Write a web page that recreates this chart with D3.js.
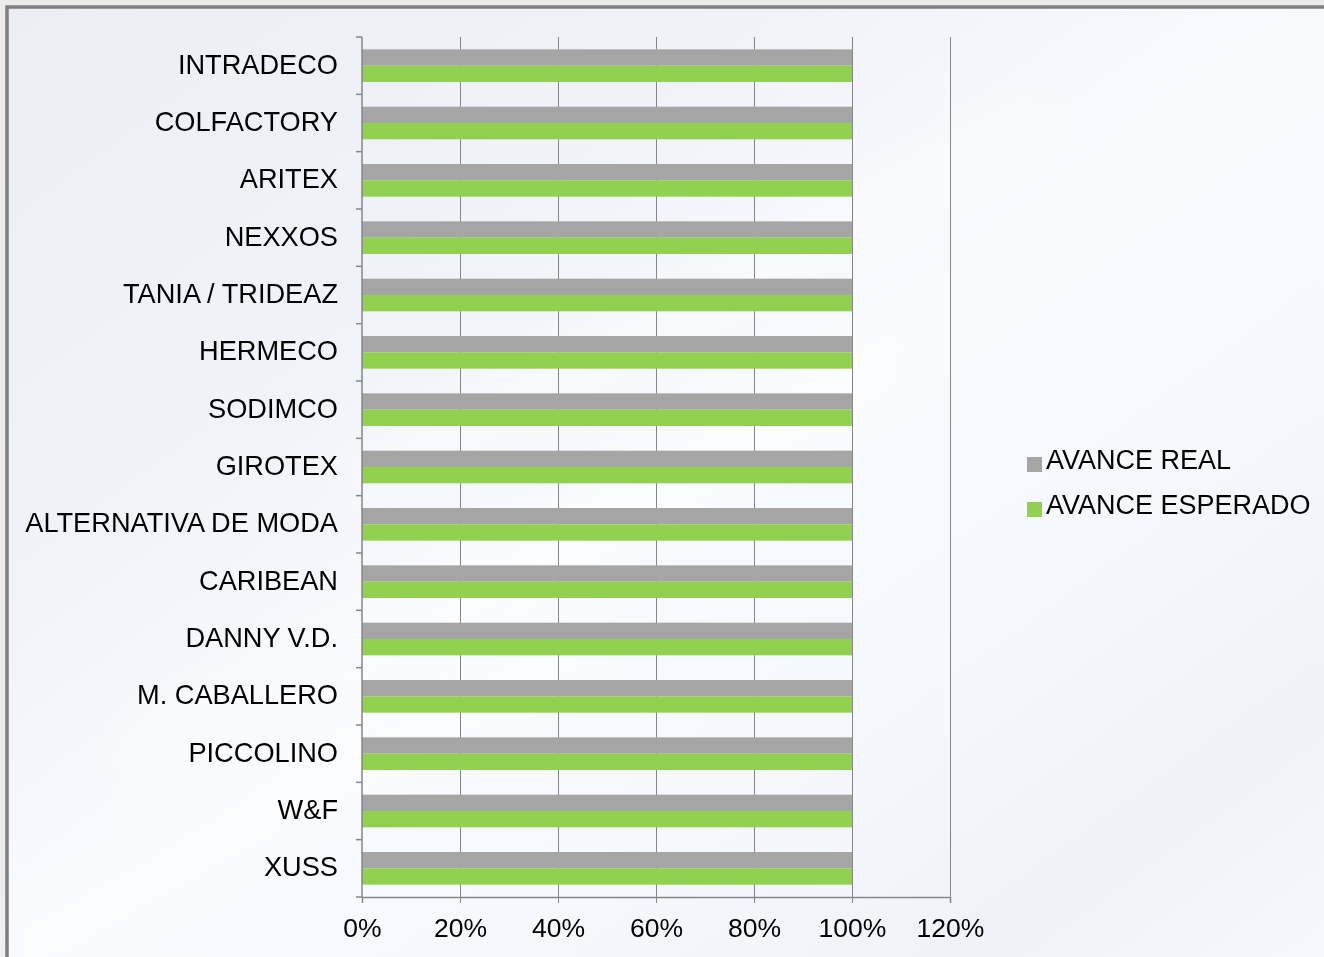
<!DOCTYPE html>
<html>
<head>
<meta charset="utf-8">
<script src="https://cdn.jsdelivr.net/npm/d3@7"></script>
<style>
  html, body { margin: 0; padding: 0; background: #ececef; overflow: hidden; }
  text { font-family: "Liberation Sans", Arial, sans-serif; fill: #000; }
</style>
</head>
<body>
<div id="chart"></div>
<script>
const categories = ['INTRADECO', 'COLFACTORY', 'ARITEX', 'NEXXOS', 'TANIA / TRIDEAZ', 'HERMECO',
  'SODIMCO', 'GIROTEX', 'ALTERNATIVA DE MODA', 'CARIBEAN', 'DANNY V.D.', 'M. CABALLERO',
  'PICCOLINO', 'W&F', 'XUSS'];
const seriesNames = ['AVANCE REAL', 'AVANCE ESPERADO'];
const seriesColors = ['#a5a5a5', '#92d050'];
const avanceReal = [1, 1, 1, 1, 1, 1, 1, 1, 1, 1, 1, 1, 1, 1, 1];
const avanceEsperado = [1, 1, 1, 1, 1, 1, 1, 1, 1, 1, 1, 1, 1, 1, 1];
const xTicks = [0, 0.2, 0.4, 0.6, 0.8, 1.0, 1.2];

const width = 1324;
const height = 957;
const plot = {left: 362, right: 950, top: 37, bottom: 897};

const svg = d3.select('#chart').append('svg')
  .attr('width', width).attr('height', height);

// background, excel-ish soft gradient
const defs = svg.append('defs');
const grad = defs.append('linearGradient').attr('id', 'bg')
  .attr('x1', '0%').attr('y1', '0%').attr('x2', '100%').attr('y2', '100%');
[[0, '#eceef6'], [0.3, '#f1f3fa'], [0.5, '#f8fbfe'], [0.68, '#f5f8fd'], [0.85, '#f0f2f9'], [1, '#f6f9fd']]
  .forEach(s => grad.append('stop').attr('offset', s[0]).attr('stop-color', s[1]));
defs.append('filter').attr('id', 'blur').append('feGaussianBlur').attr('stdDeviation', 30);

svg.append('rect').attr('x', 7).attr('y', 7).attr('width', 1340).attr('height', 970)
  .attr('fill', 'url(#bg)');
const streaks = svg.append('g').attr('filter', 'url(#blur)').attr('opacity', 0.55);
[[520, 560, 900, 70], [700, 300, 800, 50], [300, 800, 700, 60]].forEach(s => {
  streaks.append('rect').attr('x', s[0] - s[2] / 2).attr('y', s[1] - s[3] / 2)
    .attr('width', s[2]).attr('height', s[3]).attr('fill', '#ffffff')
    .attr('transform', `rotate(-28,${s[0]},${s[1]})`);
});
svg.append('rect').attr('x', 7).attr('y', 7).attr('width', 1340).attr('height', 970)
  .attr('fill', 'none').attr('stroke', '#7f7f7f').attr('stroke-width', 3.5);

const x = d3.scaleLinear().domain([0, 1.2]).range([plot.left, plot.right]);
const y = d3.scaleBand().domain(categories).range([plot.top, plot.bottom]).padding(0);
const groupFrac = 0.569;
const bw = y.bandwidth();
const yInner = d3.scaleBand().domain(seriesNames)
  .range([bw * (1 - groupFrac) / 2, bw * (1 + groupFrac) / 2]).padding(0);

// gridlines
svg.append('g').attr('shape-rendering', 'crispEdges')
  .selectAll('line').data(xTicks.slice(1)).join('line')
  .attr('x1', d => Math.round(x(d)) + 0.5).attr('x2', d => Math.round(x(d)) + 0.5)
  .attr('y1', plot.top).attr('y2', plot.bottom)
  .attr('stroke', '#868686').attr('stroke-width', 1);

// bars
const rows = categories.map((c, i) => ({name: c, values: [avanceReal[i], avanceEsperado[i]]}));
const rowG = svg.append('g').selectAll('g').data(rows).join('g')
  .attr('transform', d => `translate(0,${y(d.name)})`);
rowG.selectAll('rect').data(d => d.values.map((v, j) => ({s: seriesNames[j], v: v, c: seriesColors[j]})))
  .join('rect')
  .attr('x', x(0))
  .attr('y', d => yInner(d.s))
  .attr('width', d => x(d.v) - x(0))
  .attr('height', yInner.bandwidth())
  .attr('fill', d => d.c);

// x axis
const xAxis = svg.append('g').attr('transform', `translate(0,${plot.bottom})`)
  .call(d3.axisBottom(x).tickValues(xTicks).tickFormat(d3.format('.0%')).tickSize(6).tickPadding(15));
xAxis.select('.domain').attr('stroke', '#868686').attr('stroke-width', 1.5);
xAxis.selectAll('.tick line').attr('stroke', '#868686');
xAxis.selectAll('.tick text').attr('font-size', '26.5px')
  .attr('font-family', '"Liberation Sans", Arial, sans-serif').attr('fill', '#000');

// y axis (ticks on category boundaries)
const yAxis = svg.append('g');
yAxis.append('line').attr('x1', x(0)).attr('x2', x(0))
  .attr('y1', plot.top).attr('y2', plot.bottom)
  .attr('stroke', '#868686').attr('stroke-width', 1.5);
yAxis.selectAll('.ytick').data(categories.map(c => y(c)).concat([plot.bottom]))
  .join('line').attr('class', 'ytick')
  .attr('x1', x(0) - 6).attr('x2', x(0))
  .attr('y1', d => d).attr('y2', d => d)
  .attr('stroke', '#868686').attr('stroke-width', 1.5);
yAxis.selectAll('text').data(categories).join('text')
  .attr('x', 338)
  .attr('y', d => y(d) + bw / 2)
  .attr('dy', '0.3em')
  .attr('text-anchor', 'end')
  .attr('font-size', '27.2px')
  .text(d => d);

// legend
const legend = svg.append('g').selectAll('g').data(seriesNames).join('g')
  .attr('transform', (d, i) => `translate(1027,${469 + i * 45})`);
legend.append('rect').attr('x', 0).attr('y', -12).attr('width', 15).attr('height', 15)
  .attr('fill', (d, i) => seriesColors[i]);
legend.append('text').attr('x', 19).attr('y', 0)
  .attr('font-size', '27px').text(d => d);
</script>
</body>
</html>
